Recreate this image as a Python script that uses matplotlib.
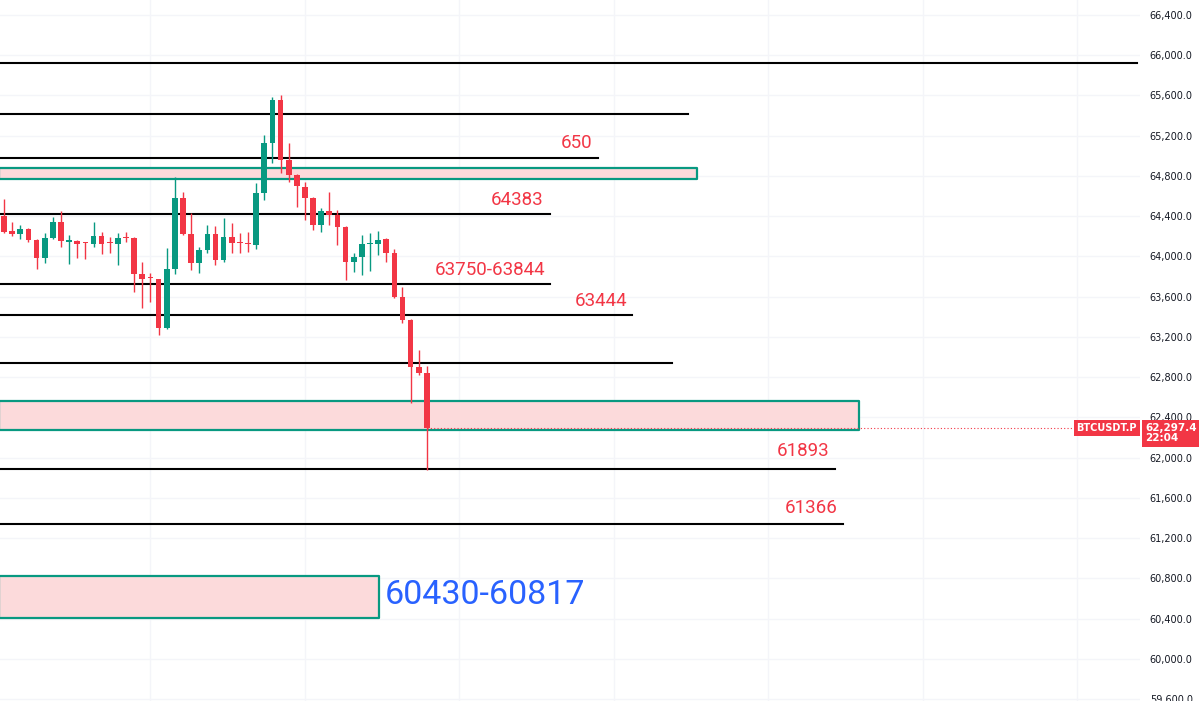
import numpy as np
import matplotlib.pyplot as plt

# candle data (open, high, low, close)
opens = [64402, 64253, 64223, 64273, 64163, 63985, 64183, 64342, 64144, 64153,
         64134, 64124, 64203, 64134, 64124, 64183, 64183, 63826, 63786, 63776,
         63289, 63875, 64581, 64223, 63935, 64064, 64223, 63965, 64193, 64134,
         64124, 64114, 64631, 65128, 65555, 64959, 64810, 64690, 64581, 64313,
         64452, 64412, 64293, 63945, 63995, 64124, 64124, 64173, 64034, 63597,
         63368, 62901, 62841]
highs = [64571, 64342, 64313, 64283, 64173, 64233, 64392, 64452, 64213, 64163,
         64140, 64342, 64243, 64193, 64233, 64243, 64190, 63945, 63836, 63780,
         64084, 64790, 64641, 64432, 64094, 64313, 64303, 64382, 64332, 64233,
         64243, 64730, 65207, 65585, 65605, 65128, 64815, 64740, 64590, 64482,
         64641, 64462, 64300, 64034, 64213, 64233, 64253, 64180, 64074, 63696,
         63375, 63070, 62911]
lows = [64233, 64203, 64173, 64144, 63875, 63935, 64173, 64094, 63925, 63985,
        63975, 64094, 64024, 64034, 63915, 64144, 63647, 63488, 63547, 63219,
        63280, 63826, 64215, 63865, 63836, 64034, 63915, 63945, 64034, 64034,
        64044, 64074, 64561, 64929, 64830, 64740, 64492, 64362, 64263, 64243,
        64313, 64114, 63766, 63846, 63816, 63855, 64014, 63945, 63587, 63338,
        62543, 62822, 61877]
closes = [64243, 64223, 64273, 64163, 63985, 64183, 64342, 64153, 64163, 64124,
          64124, 64203, 64124, 64124, 64183, 64173, 63826, 63776, 63776, 63289,
          63875, 64581, 64223, 63935, 64064, 64223, 63965, 64193, 64134, 64124,
          64120, 64631, 65128, 65555, 64959, 64810, 64700, 64581, 64313, 64452,
          64412, 64293, 63945, 63995, 64124, 64128, 64168, 64034, 63597, 63368,
          62901, 62841, 62297.4]

# support / resistance levels
line_levels = [65925, 65416, 64979, 64422, 63726, 63418, 62941, 61887, 61341]
line_ends = [139.3, 84.1, 73.1, 67.2, 67.2, 77.2, 82.2, 102.2, 103.2]
zone_bottoms = [64770, 62275, 60406]
zone_tops = [64879, 62563, 60824]
zone_ends = [85.2, 105.2, 46.1]

labels = ['650', '64383', '63750-63844', '63444', '61893', '61366']
label_prices = [65125, 64560, 63870, 63560, 62070, 61500]
label_x = [70.4, 63.1, 59.8, 73.4, 98.3, 99.3]

last_price = 62297.4
yticks = np.arange(59600, 66401, 400)

green = '#089981'
red = '#F23645'

fig = plt.figure(figsize=(11.99, 7.01), dpi=100)
ax = fig.add_axes([0, 0, 1140 / 1199, 1])

x = np.arange(len(opens))
o = np.array(opens)
c = np.array(closes)
h = np.array(highs)
l = np.array(lows)
colors = [green if cc >= oo else red for oo, cc in zip(o, c)]

# grid
for t in yticks:
    ax.axhline(t, color='#f4f5f9', lw=1, zorder=0)
for gx in np.arange(18, 140, 19):
    ax.axvline(gx, color='#f4f5f9', lw=1, zorder=0)

# zones
for b, t, e in zip(zone_bottoms, zone_tops, zone_ends):
    ax.fill_between([-0.6, e], b, t, facecolor='#fcdadb', edgecolor=green,
                    lw=1.6, zorder=1)

# lines
for lv, e in zip(line_levels, line_ends):
    ax.plot([-0.6, e], [lv, lv], color='black', lw=1.5, zorder=2)

# candles
ax.vlines(x, l, h, colors=colors, lw=1, zorder=3)
body = np.where(np.abs(c - o) < 12, 12, c - o)
ax.bar(x, body, bottom=o, width=0.7, color=colors, zorder=4)

# labels
for txt, p, lx in zip(labels, label_prices, label_x):
    ax.text(lx, p, txt, color=red, fontsize=13.5, family='Roboto',
            ha='center', va='center', zorder=5)
ax.text(46.8, 60630, '60430-60817', color='#2962FF', fontsize=24.5,
        family='Roboto', ha='left', va='center', zorder=5)

# last price line and tags
ax.plot([52, 139.7], [last_price, last_price], color=red, lw=0.8,
        ls=(0, (1, 2)), zorder=2)
fig.text(1137 / 1199, 1 - 428 / 701, 'BTCUSDT.P', color='white', fontsize=7,
         fontweight='bold', ha='right', va='center', zorder=6,
         bbox=dict(boxstyle='square,pad=0.3', fc=red, ec='none'))
fig.text(1145 / 1199, 1 - 423 / 701, '62,297.4\n22:04', color='white',
         fontsize=7.5, fontweight='bold', ha='left', va='top',
         linespacing=1.05,
         bbox=dict(boxstyle='square,pad=0.3', fc=red, ec='none'))

ax.set_xlim(-0.5, 139.7)
ax.set_ylim(59581, 66549)
ax.yaxis.tick_right()
ax.set_yticks(yticks)
ax.set_yticklabels([f'{v:,.1f}' for v in yticks])
ax.tick_params(axis='y', length=0, pad=7, labelsize=7, labelcolor='#131722')
ax.set_xticks([])
for s in ax.spines.values():
    s.set_visible(False)

fig.savefig('out.png', dpi=100)
